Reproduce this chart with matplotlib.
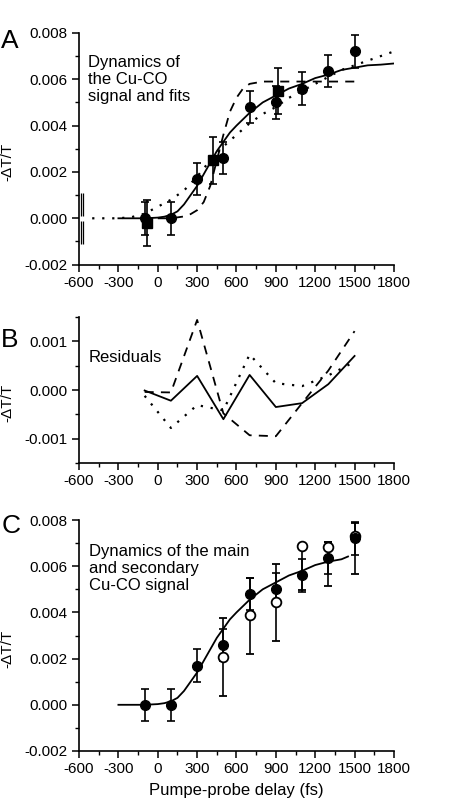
import matplotlib
matplotlib.use("Agg")
import matplotlib.pyplot as plt
from matplotlib.ticker import MultipleLocator

plt.rcParams['font.family'] = ['Liberation Sans', 'DejaVu Sans']
plt.rcParams['axes.unicode_minus'] = False

# measured points (fs, -dT/T)
delay = [-100, 100, 300, 500, 700, 900, 1100, 1300, 1500]
signal = [0.0, 0.0, 0.0017, 0.0026, 0.0048, 0.0050, 0.0056, 0.00635, 0.0072]
signal_err = [0.0007, 0.0007, 0.0007, 0.0007, 0.0007, 0.0007, 0.0007, 0.0007, 0.0007]

# squares in panel A
sq_delay = [-80, 420, 920]
sq_signal = [-0.0002, 0.0025, 0.0055]
sq_err = [0.001, 0.001, 0.001]

# clipped bar at the left edge of panel A (two strokes, broken at zero)
edge_x = [-585, -570]
edge_lo = [-0.0011, 0.0001]
edge_hi = [-0.0001, 0.0011]

# fits, panel A
fit_x = [-300, -200, -100, 0, 50, 100, 150, 200, 250, 300, 350, 400, 450, 500, 550, 600,
         700, 800, 900, 1000, 1100, 1200, 1300, 1400, 1500, 1600, 1700, 1800]
fit_y = [0, 0, 0, 0.00003, 0.00007, 0.00015, 0.0003, 0.0006, 0.0010, 0.0014, 0.0019, 0.0024,
         0.0029, 0.0033, 0.0037, 0.0040, 0.00455, 0.0050, 0.0053, 0.0056, 0.0058, 0.00605,
         0.0062, 0.0064, 0.0065, 0.0066, 0.00663, 0.00668]

dash_x = [0, 100, 200, 250, 300, 350, 400, 450, 500, 550, 600, 650, 700, 750, 800, 900,
          1000, 1200, 1500]
dash_y = [0, 0, 0.00008, 0.00018, 0.00035, 0.0007, 0.0014, 0.0025, 0.0036, 0.0046, 0.0052,
          0.0056, 0.0058, 0.00585, 0.0059, 0.0059, 0.0059, 0.0059, 0.0059]

dot_x = [-500, -400, -300, -200, -100, 0, 100, 200, 300, 400, 500, 600, 700, 800, 900, 1000,
         1100, 1200, 1300, 1400, 1500, 1600, 1700, 1800]
dot_y = [0, 0, 0, 0.00005, 0.0002, 0.0005, 0.0008, 0.0012, 0.0018, 0.0025, 0.0031, 0.0036,
         0.0041, 0.0045, 0.0048, 0.0052, 0.0055, 0.0058, 0.0061, 0.0064, 0.0066, 0.0068,
         0.0070, 0.0072]

# residuals, panel B
res_solid = [-0.00001, -0.00022, 0.00029, -0.0006, 0.00031, -0.00035, -0.00027, 0.00012, 0.0007]
res_dash = [-0.00004, -0.00005, 0.00144, -0.00048, -0.00093, -0.00095, -0.00027, 0.0004, 0.00121]
res_dot = [-0.00012, -0.00078, -0.00031, -0.00042, 0.00073, 0.00014, 0.00008, 0.0003, 0.00058]

# secondary signal, panel C
sec_delay = [500, 700, 900, 1100, 1300, 1500]
sec_signal = [0.00207, 0.00388, 0.00445, 0.00688, 0.00685, 0.0073]
sec_err_lo = [0.00167, 0.00168, 0.00168, 0.0019, 0.0017, 0.00165]
sec_err_hi = [0.00167, 0.00162, 0.00165, 0.0, 0.0002, 0.00057]

fitc_x = [-300, -200, -100, 0, 50, 100, 150, 200, 250, 300, 350, 400, 450, 500, 550, 600,
          700, 800, 900, 1000, 1100, 1200, 1300, 1400, 1450]
fitc_y = [0, 0, 0, 0.00003, 0.00007, 0.00015, 0.0003, 0.0006, 0.0010, 0.0014, 0.0019, 0.0024,
          0.0029, 0.0033, 0.0037, 0.0040, 0.00455, 0.0050, 0.0053, 0.0056, 0.0058, 0.00605,
          0.0062, 0.0063, 0.00642]

xticks = [-600, -300, 0, 300, 600, 900, 1200, 1500, 1800]

fig = plt.figure(figsize=(4.57, 8.02), dpi=100)
axA = fig.add_axes([0.173, 0.670, 0.689, 0.289])
axB = fig.add_axes([0.173, 0.4227, 0.689, 0.182])
axC = fig.add_axes([0.173, 0.0636, 0.689, 0.288])


def style(ax, ymaj, ymin, fmt):
    for s in ['top', 'right']:
        ax.spines[s].set_visible(False)
    for s in ['left', 'bottom']:
        ax.spines[s].set_linewidth(1.2)
    ax.set_xlim(-600, 1800)
    ax.set_xticks(xticks)
    ax.xaxis.set_minor_locator(MultipleLocator(150))
    ax.yaxis.set_major_locator(MultipleLocator(ymaj))
    ax.yaxis.set_minor_locator(MultipleLocator(ymin))
    ax.yaxis.set_major_formatter(fmt)
    ax.tick_params(which='major', direction='out', length=5, width=1.1, labelsize=11, pad=3)
    ax.tick_params(which='minor', direction='out', length=3, width=1.0)
    ax.set_ylabel('-ΔT/T', fontsize=11)


err_kw = dict(color='k', ecolor='k', elinewidth=1.2, capsize=2.6, capthick=1.2, ms=7, zorder=3)

# panel A
axA.plot(fit_x, fit_y, color='k', lw=1.3)
axA.plot(dash_x, dash_y, color='k', lw=1.3, ls=(0, (5, 4)))
axA.plot(dot_x, dot_y, color='k', lw=1.6, ls=(0, (1, 3.5)))
axA.errorbar(sq_delay, sq_signal, yerr=sq_err, fmt='s', **err_kw)
axA.errorbar(delay, signal, yerr=signal_err, fmt='o', **err_kw)
for ex in edge_x:
    axA.vlines([ex, ex], edge_lo, edge_hi, color='k', lw=0.9, clip_on=False)
axA.set_ylim(-0.002, 0.008)
style(axA, 0.002, 0.001, '{x:.3f}')
axA.text(-535, 0.00705, 'Dynamics of\nthe Cu-CO\nsignal and fits', fontsize=12,
         va='top', ha='left', linespacing=1.15)

# panel B
axB.plot(delay, res_solid, color='k', lw=1.3)
axB.plot(delay, res_dash, color='k', lw=1.3, ls=(0, (5, 4)))
axB.plot(delay, res_dot, color='k', lw=1.6, ls=(0, (1, 3.5)))
axB.set_ylim(-0.0015, 0.0015)
style(axB, 0.001, 0.0005, '{x:.3f}')
axB.text(-525, 0.00082, 'Residuals', fontsize=12, va='top', ha='left')

# panel C
axC.plot(fitc_x, fitc_y, color='k', lw=1.3)
axC.errorbar(sec_delay, sec_signal, yerr=[sec_err_lo, sec_err_hi], fmt='o', mfc='white',
             mew=1.3, **err_kw)
axC.errorbar(delay, signal, yerr=signal_err, fmt='o', **err_kw)
axC.set_ylim(-0.002, 0.008)
style(axC, 0.002, 0.001, '{x:.3f}')
axC.set_xlabel('Pumpe-probe delay (fs)', fontsize=12, labelpad=5)
axC.text(-525, 0.00695, 'Dynamics of the main\nand secondary\nCu-CO signal', fontsize=12,
         va='top', ha='left', linespacing=1.15)

for ax, yc in [(axA, 0.444), (axB, 0.41), (axC, 0.44)]:
    ax.yaxis.set_label_coords(-0.206, yc)

fig.text(0.003, 0.940, 'A', fontsize=19, va='baseline', ha='left')
fig.text(0.003, 0.567, 'B', fontsize=19, va='baseline', ha='left')
fig.text(0.003, 0.335, 'C', fontsize=19, va='baseline', ha='left')

fig.savefig('out.png', dpi=100)
